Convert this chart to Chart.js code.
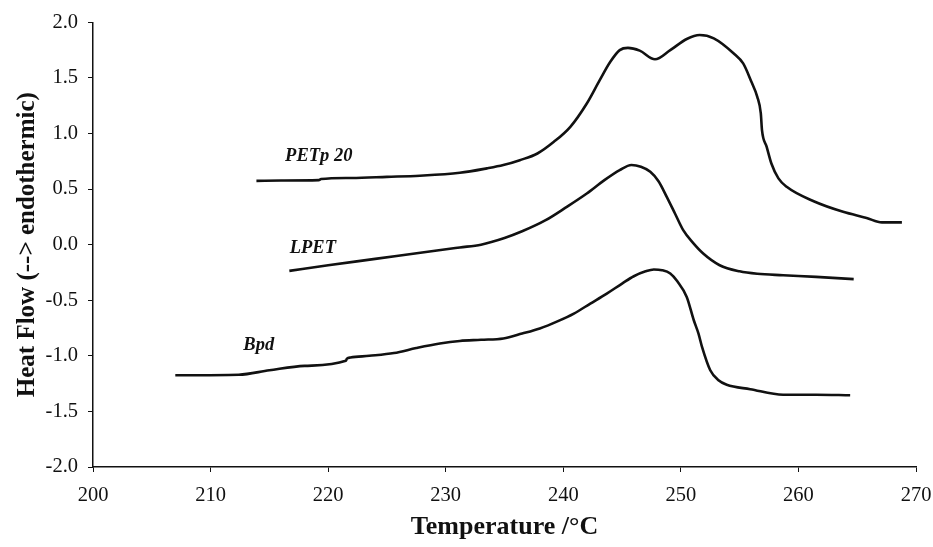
<!DOCTYPE html>
<html>
<head>
<meta charset="utf-8">
<title>DSC melting endotherms</title>
<script src="https://cdn.jsdelivr.net/npm/chart.js@4.4.1/dist/chart.umd.min.js"></script>
<style>
  html, body { margin: 0; padding: 0; background: #fff; }
  #wrap { width: 933px; height: 547px; }
</style>
</head>
<body>
<div id="wrap"><canvas id="dsc" width="933" height="547"></canvas></div>
<script>
// ── DSC traces: temperature (°C) vs heat flow ──
const petpTemp = [213.9, 216.0, 219.2, 219.4, 222.0, 225.0, 227.8, 231.2, 233.5, 234.9, 236.3, 237.8,
  239.2, 240.6, 242.0, 243.1, 244.0, 244.8, 245.5, 246.5, 247.8, 249.1, 250.5, 251.6, 252.8,
  254.5, 255.3, 256.0, 256.5, 256.8, 256.9, 257.3, 257.7, 258.3, 259.0, 261.3, 263.8, 265.8,
  267.1, 268.8];
const petpFlow = [0.574, 0.577, 0.580, 0.590, 0.600, 0.610, 0.620, 0.646, 0.686, 0.716, 0.760, 0.820,
  0.925, 1.060, 1.270, 1.480, 1.645, 1.750, 1.770, 1.745, 1.667, 1.750, 1.850, 1.886, 1.856,
  1.720, 1.630, 1.465, 1.330, 1.180, 1.030, 0.880, 0.730, 0.596, 0.520, 0.390, 0.295, 0.240,
  0.200, 0.200];

const lpetTemp = [216.7, 220.0, 224.0, 228.0, 231.2, 233.0, 235.0, 236.5, 238.5, 240.3, 242.0, 243.5,
  244.8, 245.8, 246.6, 247.4, 248.1, 248.8, 249.5, 250.2, 251.0, 251.9, 253.3, 255.0, 256.5,
  258.7, 261.5, 264.7];
const lpetFlow = [-0.236, -0.185, -0.128, -0.070, -0.025, 0.000, 0.060, 0.120, 0.220, 0.340, 0.460, 0.580,
  0.670, 0.716, 0.700, 0.655, 0.570, 0.430, 0.280, 0.130, 0.020, -0.080, -0.185, -0.240, -0.262,
  -0.275, -0.290, -0.310];

const bpdTemp = [207.0, 212.4, 215.0, 218.0, 221.5, 221.6, 221.9, 223.5, 225.6, 227.5, 229.5, 231.2,
  233.0, 234.9, 236.5, 238.0, 239.5, 240.9, 242.3, 243.7, 245.0, 246.0, 247.0, 247.7, 248.4,
  249.1, 249.7, 250.5, 251.1, 251.5, 251.8, 252.5, 253.2, 253.9, 255.9, 258.7, 261.5, 264.4];
const bpdFlow = [-1.175, -1.170, -1.130, -1.090, -1.045, -1.025, -1.015, -1.000, -0.975, -0.930, -0.889, -0.866,
  -0.856, -0.844, -0.800, -0.754, -0.690, -0.620, -0.530, -0.440, -0.350, -0.284, -0.240, -0.223, -0.230,
  -0.260, -0.330, -0.470, -0.680, -0.800, -0.920, -1.130, -1.220, -1.260, -1.300, -1.350, -1.350, -1.355];

// curve names and where each one is written on the plot (°C, heat flow)
const curveNames = ['PETp 20', 'LPET', 'Bpd'];
const nameTemp = [219.2, 218.7, 214.1];
const nameFlow = [0.792, -0.036, -0.905];

const SERIF = '"Liberation Serif", "Times New Roman", serif';
const INK = '#111';

function toPoints(xs, ys) {
  return xs.map((x, i) => ({ x, y: ys[i] }));
}

function trace(label, xs, ys) {
  return {
    label,
    data: toPoints(xs, ys),
    borderColor: INK,
    borderWidth: 2.6,
    pointRadius: 0,
    fill: false,
    cubicInterpolationMode: 'monotone'
  };
}

// writes the sample name next to each trace
const curveLabels = {
  id: 'curveLabels',
  afterDatasetsDraw(chart) {
    const { ctx, scales } = chart;
    ctx.save();
    ctx.font = 'italic bold 18.5px ' + SERIF;
    ctx.fillStyle = INK;
    ctx.textAlign = 'center';
    ctx.textBaseline = 'middle';
    curveNames.forEach((name, i) => {
      ctx.fillText(name, scales.x.getPixelForValue(nameTemp[i]), scales.y.getPixelForValue(nameFlow[i]));
    });
    ctx.restore();
  }
};

new Chart(document.getElementById('dsc'), {
  type: 'line',
  data: {
    datasets: [
      trace('PETp 20', petpTemp, petpFlow),
      trace('LPET', lpetTemp, lpetFlow),
      trace('Bpd', bpdTemp, bpdFlow)
    ]
  },
  options: {
    responsive: false,
    animation: false,
    layout: { padding: { top: 22, right: 17, bottom: 0, left: 0 } },
    plugins: {
      legend: { display: false },
      tooltip: { enabled: false }
    },
    scales: {
      x: {
        type: 'linear',
        min: 200,
        max: 270,
        // fixed box: no extra room reserved for the end labels
        afterFit: s => { s.height = 80; s.paddingLeft = 0; s.paddingRight = 0; },
        ticks: {
          stepSize: 10,
          color: INK,
          padding: 11,
          font: { family: SERIF, size: 20.5 }
        },
        grid: { drawOnChartArea: false, drawTicks: true, tickLength: 5, color: INK },
        border: { display: true, color: INK, width: 1.5 },
        title: {
          display: true,
          text: 'Temperature /°C',
          color: INK,
          padding: { top: 0, bottom: 4 },
          font: { family: SERIF, size: 26, weight: 'bold' }
        }
      },
      y: {
        type: 'linear',
        min: -2,
        max: 2,
        afterFit: s => { s.width = 93; },
        ticks: {
          stepSize: 0.5,
          color: INK,
          padding: 10,
          font: { family: SERIF, size: 20.5 },
          callback: v => v.toFixed(1)
        },
        grid: { drawOnChartArea: false, drawTicks: true, tickLength: 5, color: INK },
        border: { display: true, color: INK, width: 1.5 },
        title: {
          display: true,
          text: 'Heat Flow (--> endothermic)',
          color: INK,
          padding: { top: 13, bottom: 0 },
          font: { family: SERIF, size: 25, weight: 'bold' }
        }
      }
    }
  },
  plugins: [curveLabels]
});
</script>
</body>
</html>
